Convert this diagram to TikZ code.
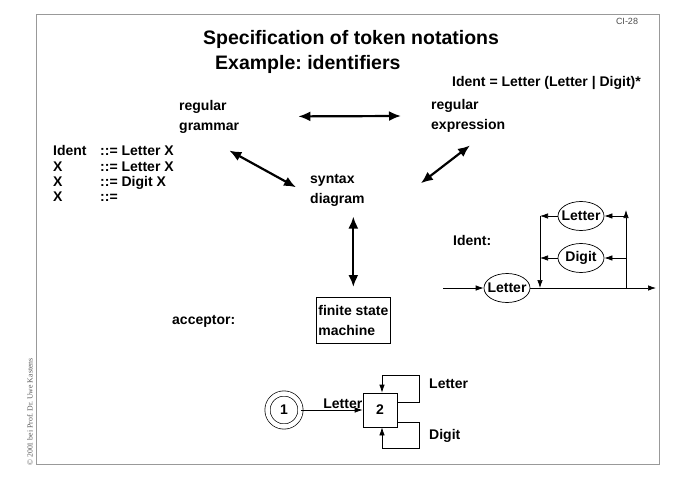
\documentclass[tikz,border=0pt]{standalone}
\usepackage{fontspec}
\setmainfont{Liberation Sans}
\newfontfamily\crfont{Liberation Serif}
\usetikzlibrary{arrows.meta}
\usetikzlibrary{shapes.geometric}
\usetikzlibrary{positioning}
\frenchspacing

\begin{document}
\begin{tikzpicture}[x=1pt,y=-1pt,
  txt/.style={font=\bfseries\fontsize{14}{20}\selectfont, inner sep=0pt, align=left},
  bigarr/.style={line width=2.2pt, {Latex[length=12pt,width=10pt]}-{Latex[length=12pt,width=10pt]}},
  thinarr/.style={line width=0.7pt, -{Latex[length=8pt,width=5.5pt]}},
  oval/.style={ellipse, draw, line width=0.7pt, minimum width=46pt, minimum height=29pt, inner sep=0pt, font=\bfseries\fontsize{14}{16}\selectfont}]
\useasboundingbox (0,0) rectangle (678,480);

% frame
\draw[gray!80, line width=0.8pt] (36,14) rectangle (659,464);
\node[font=\fontsize{9}{10}\selectfont, gray!60!black] (pageno) at (627,21) {CI-28};
\node[rotate=90, font=\crfont\fontsize{7.8}{8}\selectfont, gray!70!black] (copy) at (30,412) {\textcopyright{} 2001 bei Prof. Dr. Uwe Kastens};

% headings
\node[font=\bfseries\fontsize{19.5}{22}\selectfont, anchor=base west, inner sep=0] (title) at (203,44) {Specification of token notations};
\node[font=\bfseries\fontsize{19.5}{22}\selectfont, anchor=base west, inner sep=0] (example) at (215,69) {Example: identifiers};

% the four notations
\node[txt, anchor=north west] (gram) at (179,100) {regular\\grammar};
\node[txt, anchor=north west] (regex) at (431,99) {regular\\expression};
\node[txt, anchor=north west] (syntax) at (310,174) {syntax\\diagram};
\node[txt, anchor=base west] (redef) at (452,86) {Ident = Letter (Letter | Digit)*};
\node[txt, anchor=north west, font=\bfseries\fontsize{14}{15.3}\selectfont] (rules) at (53,145)
  {\begin{tabular}{@{}p{47pt}@{}l@{}}
   Ident & ::= Letter X\\
   X & ::= Letter X\\
   X & ::= Digit X\\
   X & ::=
   \end{tabular}};
\node[txt, anchor=base west] (acc) at (172,324) {acceptor:};
\node[draw, line width=0.7pt, font=\bfseries\fontsize{14}{20}\selectfont, align=left, inner xsep=2pt, minimum height=46pt, anchor=north west] (fsm) at (316,297) {finite state\\machine};

\draw[bigarr, shorten <=59pt, shorten >=30pt] (gram) -- (regex);
\draw[bigarr] ([shift={(-10,17)}]gram.south east) -- ([shift={(-14,-3)}]syntax.west);
\draw[bigarr] ([shift={(39,13)}]regex.south west) -- ([shift={(56,-7)}]syntax.east);
\draw[bigarr, shorten <=10pt, shorten >=10pt] (fsm.north |- syntax.south) -- (fsm.north);

% syntax diagram
\node[txt, anchor=base west] (idlab) at (453,245) {Ident:};
\node[oval] (l0) at (507,288) {\makebox[0pt]{Letter}};
\node[oval] (l1) at (581,216) {\makebox[0pt]{Letter}};
\node[oval] (d1) at (581,258) {\makebox[0pt]{Digit}};
\coordinate (sin) at (443,288);
\coordinate (sout) at (656,288);
\coordinate (jl) at (540,288);
\coordinate (jr) at (626,288);

\draw[thinarr] (sin) -- (l0);
\draw[thinarr] (l0) -- (sout);
\draw[thinarr] (jr) -- (jr |- 0,210);
\draw[thinarr] (jr |- l1) -- (l1);
\draw[thinarr] (jr |- d1) -- (d1);
\draw[thinarr] (l1) -- (jl |- l1);
\draw[thinarr] (d1) -- (jl |- d1);
\draw[thinarr] (jl |- l1) -- (jl);

% finite state machine
\node[circle, draw, line width=0.7pt, double, double distance=4.5pt, minimum size=33pt, font=\bfseries\fontsize{14}{16}\selectfont] (s1) at (284,410) {1};
\node[draw, line width=0.7pt, minimum size=34pt, font=\bfseries\fontsize{14}{16}\selectfont] (s2) at (380,410) {2};
\draw[thinarr] (s1) -- (s2) node[txt, at end, anchor=south east, yshift=1pt] (tlet) {Letter};
\draw[thinarr] ([yshift=8pt]s2.east) -- ++(22,0) -- ++(0,-27) -| ([xshift=2pt]s2.north);
\draw[thinarr] ([yshift=-12pt]s2.east) -- ++(22,0) -- ++(0,26) -| ([xshift=2pt]s2.south);
\node[txt, anchor=base west] (llet) at (429,388) {Letter};
\node[txt, anchor=base west] (ldig) at (429,439) {Digit};
\end{tikzpicture}
\end{document}
